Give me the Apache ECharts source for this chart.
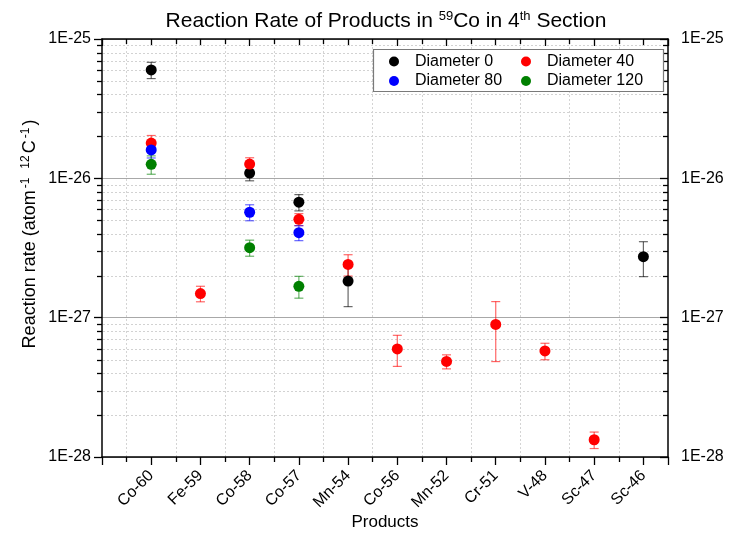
<!DOCTYPE html>
<html>
<head>
<meta charset="utf-8">
<script src="https://cdn.jsdelivr.net/npm/echarts@6/dist/echarts.min.js"></script>
<style>
  html, body { margin: 0; padding: 0; background: #ffffff; }
  #chart { width: 729px; height: 535px; }
</style>
</head>
<body>
<div id="chart"></div>
<script>
// Products on the x axis, placed at positions 1..11
const products = ['Co-60', 'Fe-59', 'Co-58', 'Co-57', 'Mn-54', 'Co-56', 'Mn-52', 'Cr-51', 'V-48', 'Sc-47', 'Sc-46'];

// Log axis tick labels (decades)
const yTickLabels = { '-28': '1E-28', '-27': '1E-27', '-26': '1E-26', '-25': '1E-25' };

const seriesNames = ['Diameter 0', 'Diameter 40', 'Diameter 80', 'Diameter 120'];
const seriesColors = ['#000000', '#ff0000', '#0000ff', '#008000'];

// Reaction rates (atom^-1 12C^-1) per product; null = no value
const rateD0   = [6.0e-26, null, 1.09e-26, 6.74e-27, 1.83e-27, null, null, null, null, null, 2.74e-27];
const errD0    = [0.8e-26, null, 0.13e-26, 0.9e-27, 0.63e-27, null, null, null, null, null, 0.77e-27];

const rateD40  = [1.79e-26, 1.49e-27, 1.265e-26, 5.08e-27, 2.41e-27, 5.97e-28, 4.85e-28, 8.94e-28, 5.77e-28, 1.33e-28, null];
const errD40   = [0.24e-26, 0.19e-27, 0.14e-26, 0.5e-27, 0.42e-27, 1.5e-28, 0.56e-28, 4.1e-28, 0.78e-28, 0.18e-28, null];

const rateD80  = [1.60e-26, null, 5.71e-27, 4.07e-27, null, null, null, null, null, null, null];
const errD80   = [0.2e-26, null, 0.75e-27, 0.5e-27, null, null, null, null, null, null, null];

const rateD120 = [1.26e-26, null, 3.18e-27, 1.68e-27, null, null, null, null, null, null, null];
const errD120  = [0.19e-26, null, 0.42e-27, 0.3e-27, null, null, null, null, null, null, null];

const rates = [rateD0, rateD40, rateD80, rateD120];
const errors = [errD0, errD40, errD80, errD120];

// Minor log positions (2..9 per decade) for dotted grid and minor ticks
const minorDecades = [-28, -27, -26];
const minorMultipliers = [2, 3, 4, 5, 6, 7, 8, 9];

// Log axis extent; nudged by a hair so both end decades get a tick and label
const Y_MIN = 1e-28 * 0.99999;
const Y_MAX = 1e-25 * 1.00001;

const FONT = '"Liberation Sans", Arial, sans-serif';

const chart = echarts.init(document.getElementById('chart'));

function pointData(vals) {
  const out = [];
  vals.forEach(function (v, i) { if (v != null) out.push([i + 1, v]); });
  return out;
}
function errorData(vals, errs) {
  const out = [];
  vals.forEach(function (v, i) { if (v != null) out.push([i + 1, v - errs[i], v + errs[i]]); });
  return out;
}

function errorBarRenderer(color) {
  return function (params, api) {
    const x = api.value(0);
    const pLo = api.coord([x, api.value(1)]);
    const pHi = api.coord([x, api.value(2)]);
    const cap = 4.5;
    const style = { stroke: color, lineWidth: 1.2, opacity: 0.6 };
    return {
      type: 'group',
      children: [
        { type: 'line', shape: { x1: pHi[0], y1: pHi[1], x2: pLo[0], y2: pLo[1] }, style: style },
        { type: 'line', shape: { x1: pHi[0] - cap, y1: pHi[1], x2: pHi[0] + cap, y2: pHi[1] }, style: style },
        { type: 'line', shape: { x1: pLo[0] - cap, y1: pLo[1], x2: pLo[0] + cap, y2: pLo[1] }, style: style }
      ]
    };
  };
}

// Dotted minor grid lines plus minor ticks on both log axes
function minorRenderer(params, api) {
  const cs = params.coordSys;
  const y = Math.round(api.coord([0, api.value(1)])[1]) + 0.5;
  const left = cs.x, right = cs.x + cs.width;
  return {
    type: 'group',
    children: [
      { type: 'line', shape: { x1: left + 1, y1: y, x2: right - 1, y2: y },
        style: { stroke: '#d2d2d2', lineWidth: 1, lineDash: [2, 2] } },
      { type: 'line', shape: { x1: left - 5, y1: y, x2: left, y2: y },
        style: { stroke: '#000', lineWidth: 1.3 } },
      { type: 'line', shape: { x1: right - 5, y1: y, x2: right, y2: y },
        style: { stroke: '#000', lineWidth: 1.3 } }
    ]
  };
}

const minorData = [];
minorDecades.forEach(function (d) {
  minorMultipliers.forEach(function (m) { minorData.push([0, m * Math.pow(10, d)]); });
});

const series = [
  {
    type: 'custom',
    name: 'minor',
    silent: true,
    clip: false,
    z: 1,
    renderItem: minorRenderer,
    encode: { x: 0, y: 1 },
    data: minorData
  }
];

seriesNames.forEach(function (name, k) {
  series.push({
    type: 'custom',
    name: name + ' error',
    silent: true,
    z: 3,
    renderItem: errorBarRenderer(seriesColors[k]),
    encode: { x: 0, y: [1, 2] },
    data: errorData(rates[k], errors[k])
  });
});
seriesNames.forEach(function (name, k) {
  series.push({
    type: 'scatter',
    name: name,
    symbol: 'circle',
    symbolSize: 11,
    z: 4,
    itemStyle: { color: seriesColors[k], opacity: 1 },
    data: pointData(rates[k])
  });
});

function decadeLabel(v) {
  const e = Math.round(Math.log10(v));
  return yTickLabels[String(e)] || '';
}

const baseX = {
  type: 'value',
  min: 0,
  max: 11.5,
  interval: 1,
  axisLine: { show: true, onZero: false, lineStyle: { color: '#000', width: 1.5 } },
  splitLine: { show: false },
  minorTick: { show: true, splitNumber: 2, length: 5, lineStyle: { color: '#000', width: 1.3 } },
  minorSplitLine: { show: false }
};

const option = {
  backgroundColor: '#ffffff',
  animation: false,
  textStyle: { fontFamily: FONT },
  title: {
    text: 'Reaction Rate of Products in {sup|59}Co in 4{sup|th} Section',
    left: 381,
    textAlign: 'center',
    top: 5,
    textStyle: {
      fontFamily: FONT, fontSize: 21, fontWeight: 'normal', color: '#000',
      rich: {
        sup: { fontFamily: FONT, fontSize: 13, verticalAlign: 'top', padding: [0, 0, 9, 0], color: '#000' }
      }
    }
  },
  grid: { left: 102, right: 61, top: 39, bottom: 78, containLabel: false, outerBoundsMode: 'none' },
  xAxis: [
    Object.assign({}, baseX, {
      position: 'bottom',
      name: 'Products',
      nameLocation: 'middle',
      nameGap: 57,
      nameMoveOverlap: false,
      nameTextStyle: { fontFamily: FONT, fontSize: 17, color: '#000' },
      axisTick: { show: true, inside: false, length: 8, lineStyle: { color: '#000', width: 1.3 } },
      axisLabel: {
        rotate: 45, margin: 16, fontFamily: FONT, fontSize: 16, color: '#000',
        showMinLabel: true, showMaxLabel: true, hideOverlap: false,
        formatter: function (v) {
          const i = Math.round(v);
          return (Math.abs(v - i) < 1e-6 && i >= 1 && i <= products.length) ? products[i - 1] : '';
        }
      },
      minorSplitLine: { show: true, lineStyle: { color: '#d4d4d4', width: 1, type: [2, 2] } }
    }),
    Object.assign({}, baseX, {
      position: 'top',
      axisTick: { show: true, inside: true, length: 7, lineStyle: { color: '#000', width: 1.3 } },
      axisLabel: { show: false }
    })
  ],
  yAxis: [
    {
      type: 'log',
      logBase: 10,
      min: Y_MIN,
      max: Y_MAX,
      position: 'left',
      name: 'Reaction rate (atom{sup|-1} {sup|12}C{sup|-1})',
      nameLocation: 'middle',
      nameGap: 62,
      nameMoveOverlap: false,
      nameTextStyle: {
        fontFamily: FONT, fontSize: 18, color: '#000', padding: [0, 0, 0, 28],
        rich: { sup: { fontFamily: FONT, fontSize: 12, verticalAlign: 'top', padding: [0, 2, 8, 2], color: '#000' } }
      },
      axisLine: { show: true, onZero: false, lineStyle: { color: '#000', width: 1.5 } },
      axisTick: { show: true, inside: false, length: 8, lineStyle: { color: '#000', width: 1.3 } },
      axisLabel: {
        margin: 11, fontFamily: FONT, fontSize: 16, color: '#000', formatter: decadeLabel,
        showMinLabel: true, showMaxLabel: true, hideOverlap: false
      },
      splitLine: { show: true, lineStyle: { color: '#a8a8a8', width: 1 } }
    },
    {
      type: 'log',
      logBase: 10,
      min: Y_MIN,
      max: Y_MAX,
      position: 'right',
      axisLine: { show: true, onZero: false, lineStyle: { color: '#000', width: 1.5 } },
      axisTick: { show: true, inside: true, length: 8, lineStyle: { color: '#000', width: 1.3 } },
      axisLabel: {
        margin: 13, fontFamily: FONT, fontSize: 16, color: '#000', formatter: decadeLabel,
        showMinLabel: true, showMaxLabel: true, hideOverlap: false
      },
      splitLine: { show: false }
    }
  ],
  legend: [
    {
      data: ['Diameter 0', 'Diameter 80'],
      orient: 'vertical',
      left: 389,
      top: 52.5,
      padding: 0,
      itemWidth: 32,
      itemHeight: 10,
      itemGap: 1.5,
      icon: 'circle',
      z: 12,
      textStyle: { fontFamily: FONT, fontSize: 16, lineHeight: 18, color: '#000' }
    },
    {
      data: ['Diameter 40', 'Diameter 120'],
      orient: 'vertical',
      left: 521,
      top: 52.5,
      padding: 0,
      itemWidth: 32,
      itemHeight: 10,
      itemGap: 1.5,
      icon: 'circle',
      z: 12,
      textStyle: { fontFamily: FONT, fontSize: 16, lineHeight: 18, color: '#000' }
    }
  ],
  graphic: [
    {
      type: 'rect',
      z: 10,
      shape: { x: 373.5, y: 49.5, width: 290, height: 42 },
      style: { fill: '#ffffff', stroke: '#7a7a7a', lineWidth: 1.2 }
    }
  ],
  series: series
};

chart.setOption(option);
</script>
</body>
</html>
